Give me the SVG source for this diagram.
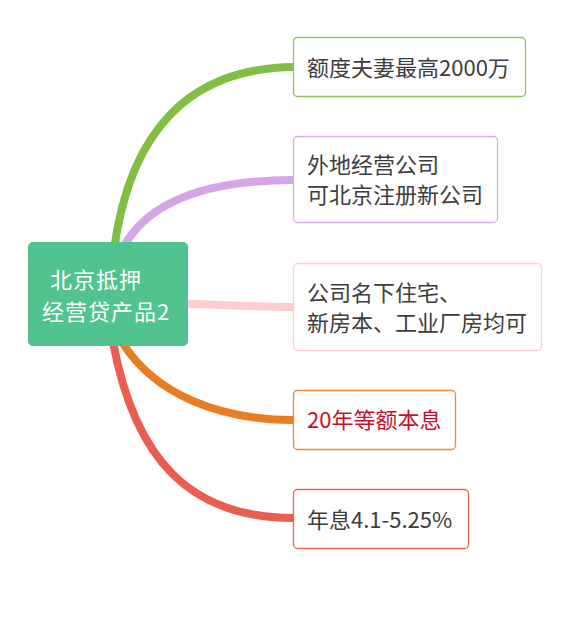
<svg xmlns="http://www.w3.org/2000/svg" width="572" height="632" viewBox="0 0 572 632">
<style>
.t{font-family:"Noto Sans CJK SC","Liberation Sans",sans-serif;font-size:22px;fill:#3d3d3d}
.c{font-family:"Noto Sans CJK SC","Liberation Sans",sans-serif;font-size:22px;fill:#ffffff;letter-spacing:1px}
.box{fill:#ffffff;stroke-width:1.3}
.ln{fill:none;stroke-width:8;stroke-linecap:butt}
</style>
<rect width="572" height="632" fill="#ffffff"/>
<g id="connectors">
<path class="ln" stroke="#FFCDCD" d="M150,303 C200,303 240,307 294,307"/>
<path class="ln" stroke="#D4A6E9" d="M124,246 C150,200 210,180 294,180"/>
<path class="ln" stroke="#82BE41" d="M114,250 C130,130 190,68 294,67"/>
<path class="ln" stroke="#E97D24" d="M122,342 C155,395 220,420 294,420"/>
<path class="ln" stroke="#E85F52" d="M113,342 C135,460 190,518 294,518"/>
</g>
<g id="center">
<rect x="28" y="242" width="160" height="104" rx="5" fill="#51C38E"/>
<text class="c"><tspan x="50" y="288">北京抵押</tspan><tspan x="42" y="320">经营贷产品2</tspan></text>
</g>
<g id="n1">
<rect class="box" x="293.5" y="37.5" width="232" height="59" rx="4" stroke="#8CC45A"/>
<text class="t" x="307" y="76">额度夫妻最高2000万</text>
</g>
<g id="n2">
<rect class="box" x="293.5" y="136.5" width="204" height="86" rx="4" stroke="#D8AEEA"/>
<text class="t"><tspan x="307" y="173">外地经营公司</tspan><tspan x="307" y="203">可北京注册新公司</tspan></text>
</g>
<g id="n3">
<rect class="box" x="293.5" y="263.5" width="248" height="87" rx="4" stroke="#FFCDCD"/>
<text class="t"><tspan x="307" y="301">公司名下住宅、</tspan><tspan x="307" y="331">新房本、工业厂房均可</tspan></text>
</g>
<g id="n4">
<rect class="box" x="293.5" y="390.5" width="162" height="59" rx="4" stroke="#E98A3C"/>
<text class="t" x="307" y="428" style="fill:#C8102E">20年等额本息</text>
</g>
<g id="n5">
<rect class="box" x="293.5" y="489.5" width="175" height="59" rx="4" stroke="#E8685C"/>
<text class="t" x="307" y="528">年息4.1-5.25%</text>
</g>
</svg>
